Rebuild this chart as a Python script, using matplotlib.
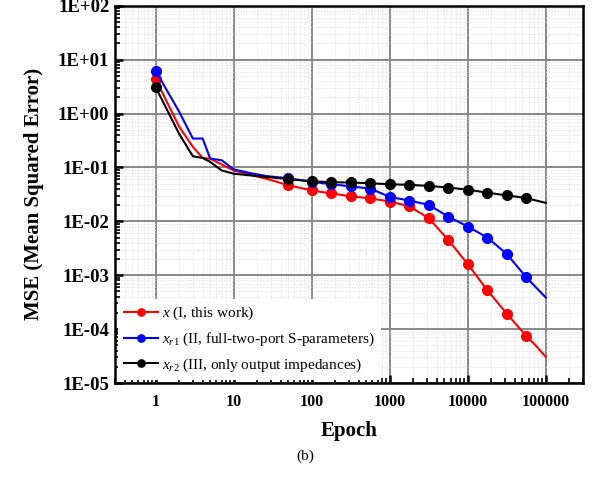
import matplotlib.pyplot as plt
from matplotlib.ticker import LogLocator, NullFormatter, FixedLocator

plt.rcParams['font.family'] = ['Liberation Serif', 'DejaVu Serif']
plt.rcParams['mathtext.fontset'] = 'custom'
plt.rcParams['mathtext.rm'] = 'Liberation Serif'
plt.rcParams['mathtext.it'] = 'Liberation Serif:italic'

# epochs where markers are drawn (after the first one)
mark_epochs = [50, 100, 178, 316, 562, 1000, 1778, 3162, 5623, 10000, 17783, 31623, 56234]

red_epochs = [1, 2, 3, 4, 5, 6, 10, 16, 26] + mark_epochs + [72000, 100000]
red_mse = [4.35, 0.57, 0.241, 0.150, 0.146, 0.127, 0.088, 0.0734, 0.062,
           0.0468, 0.0374, 0.0329, 0.0292, 0.0267, 0.0233, 0.0191, 0.0114,
           0.0045, 0.0016, 0.000525, 0.000193, 7.4e-5, 5.2e-5, 3.05e-5]

blue_epochs = [1, 2, 3, 4, 5, 7, 8, 10, 16, 26] + mark_epochs + [100000]
blue_mse = [6.2, 1.08, 0.344, 0.344, 0.146, 0.136, 0.118, 0.092, 0.079, 0.0693,
            0.063, 0.054, 0.0489, 0.0445, 0.0405, 0.0284, 0.0243, 0.0202,
            0.0122, 0.0080, 0.0050, 0.00247, 0.00091, 0.000384]

black_epochs = [1, 2, 3, 4, 5, 7, 10, 26] + mark_epochs + [100000]
black_mse = [3.08, 0.42, 0.161, 0.150, 0.127, 0.088, 0.0766, 0.0665,
             0.061, 0.0553, 0.0531, 0.0526, 0.0509, 0.0488, 0.0475, 0.0455,
             0.0423, 0.0387, 0.0340, 0.0303, 0.0270, 0.0220]

labels = [r"$x$ (I, this work)",
          r"$x_{r\mathit{1}}$ (II, full-two-port S-parameters)",
          r"$x_{r\mathit{2}}$ (III, only output impedances)"]

fig = plt.figure(figsize=(5.92, 4.8), dpi=100)
ax = fig.add_axes([0.194, 0.202, 0.791, 0.786])

series = [(red_epochs, red_mse, "#ff0000"),
          (blue_epochs, blue_mse, "#0000ff"),
          (black_epochs, black_mse, "#000000")]
for (ep, mse, c), lab in zip(series, labels):
    idx = [0] + [ep.index(e) for e in mark_epochs]
    ax.plot(ep, mse, color=c, lw=1.5, marker="o", ms=7, markevery=idx,
            label=lab, zorder=3)

ax.set_xscale("log")
ax.set_yscale("log")
ax.set_xlim(0.3, 3e5)
ax.set_ylim(1e-5, 1e2)

ax.xaxis.set_major_locator(FixedLocator([1, 10, 100, 1000, 10000, 100000]))
ax.set_xticklabels(["1", "10", "100", "1000", "10000", "100000"])
ax.xaxis.set_minor_locator(LogLocator(base=10, subs=range(2, 10), numticks=20))
ax.xaxis.set_minor_formatter(NullFormatter())
yt = [10.0 ** k for k in range(-5, 3)]
ax.yaxis.set_major_locator(FixedLocator(yt))
ax.set_yticklabels(["1E-05", "1E-04", "1E-03", "1E-02", "1E-01", "1E+00", "1E+01", "1E+02"])
ax.yaxis.set_minor_locator(LogLocator(base=10, subs=range(2, 10), numticks=20))
ax.yaxis.set_minor_formatter(NullFormatter())

ax.tick_params(which="major", direction="in", length=6, width=1.8)
ax.tick_params(which="minor", direction="in", length=3.5, width=1.2)
for lab in ax.get_xticklabels():
    lab.set_fontweight("bold")
    lab.set_fontsize(11.5)
for lab in ax.get_yticklabels():
    lab.set_fontweight("bold")
    lab.set_fontsize(13.5)
ax.tick_params(axis="x", pad=8)
ax.tick_params(axis="y", pad=4)

ax.grid(which="major", color="#888888", lw=1.4, zorder=0)
ax.grid(which="minor", color="#e2e2e2", lw=0.5, ls=(0, (2.5, 1.5)), zorder=0)
ax.set_axisbelow(True)
for sp in ax.spines.values():
    sp.set_linewidth(1.8)

ax.set_xlabel("Epoch", fontsize=15, fontweight="bold", labelpad=8)
ax.set_ylabel("MSE (Mean Squared Error)", fontsize=15, fontweight="bold", labelpad=10)

leg = ax.legend(loc="lower left", fontsize=11, frameon=True, edgecolor="none",
                facecolor="white", framealpha=1, fancybox=False,
                handlelength=2.2, handletextpad=0.3, labelspacing=0.55,
                borderaxespad=0.2, borderpad=0.4, markerscale=0.75)
leg.get_frame().set_linewidth(0)

fig.text(0.515, 0.042, "(b)", fontsize=11, ha="center")

fig.savefig("out.png", dpi=100)
